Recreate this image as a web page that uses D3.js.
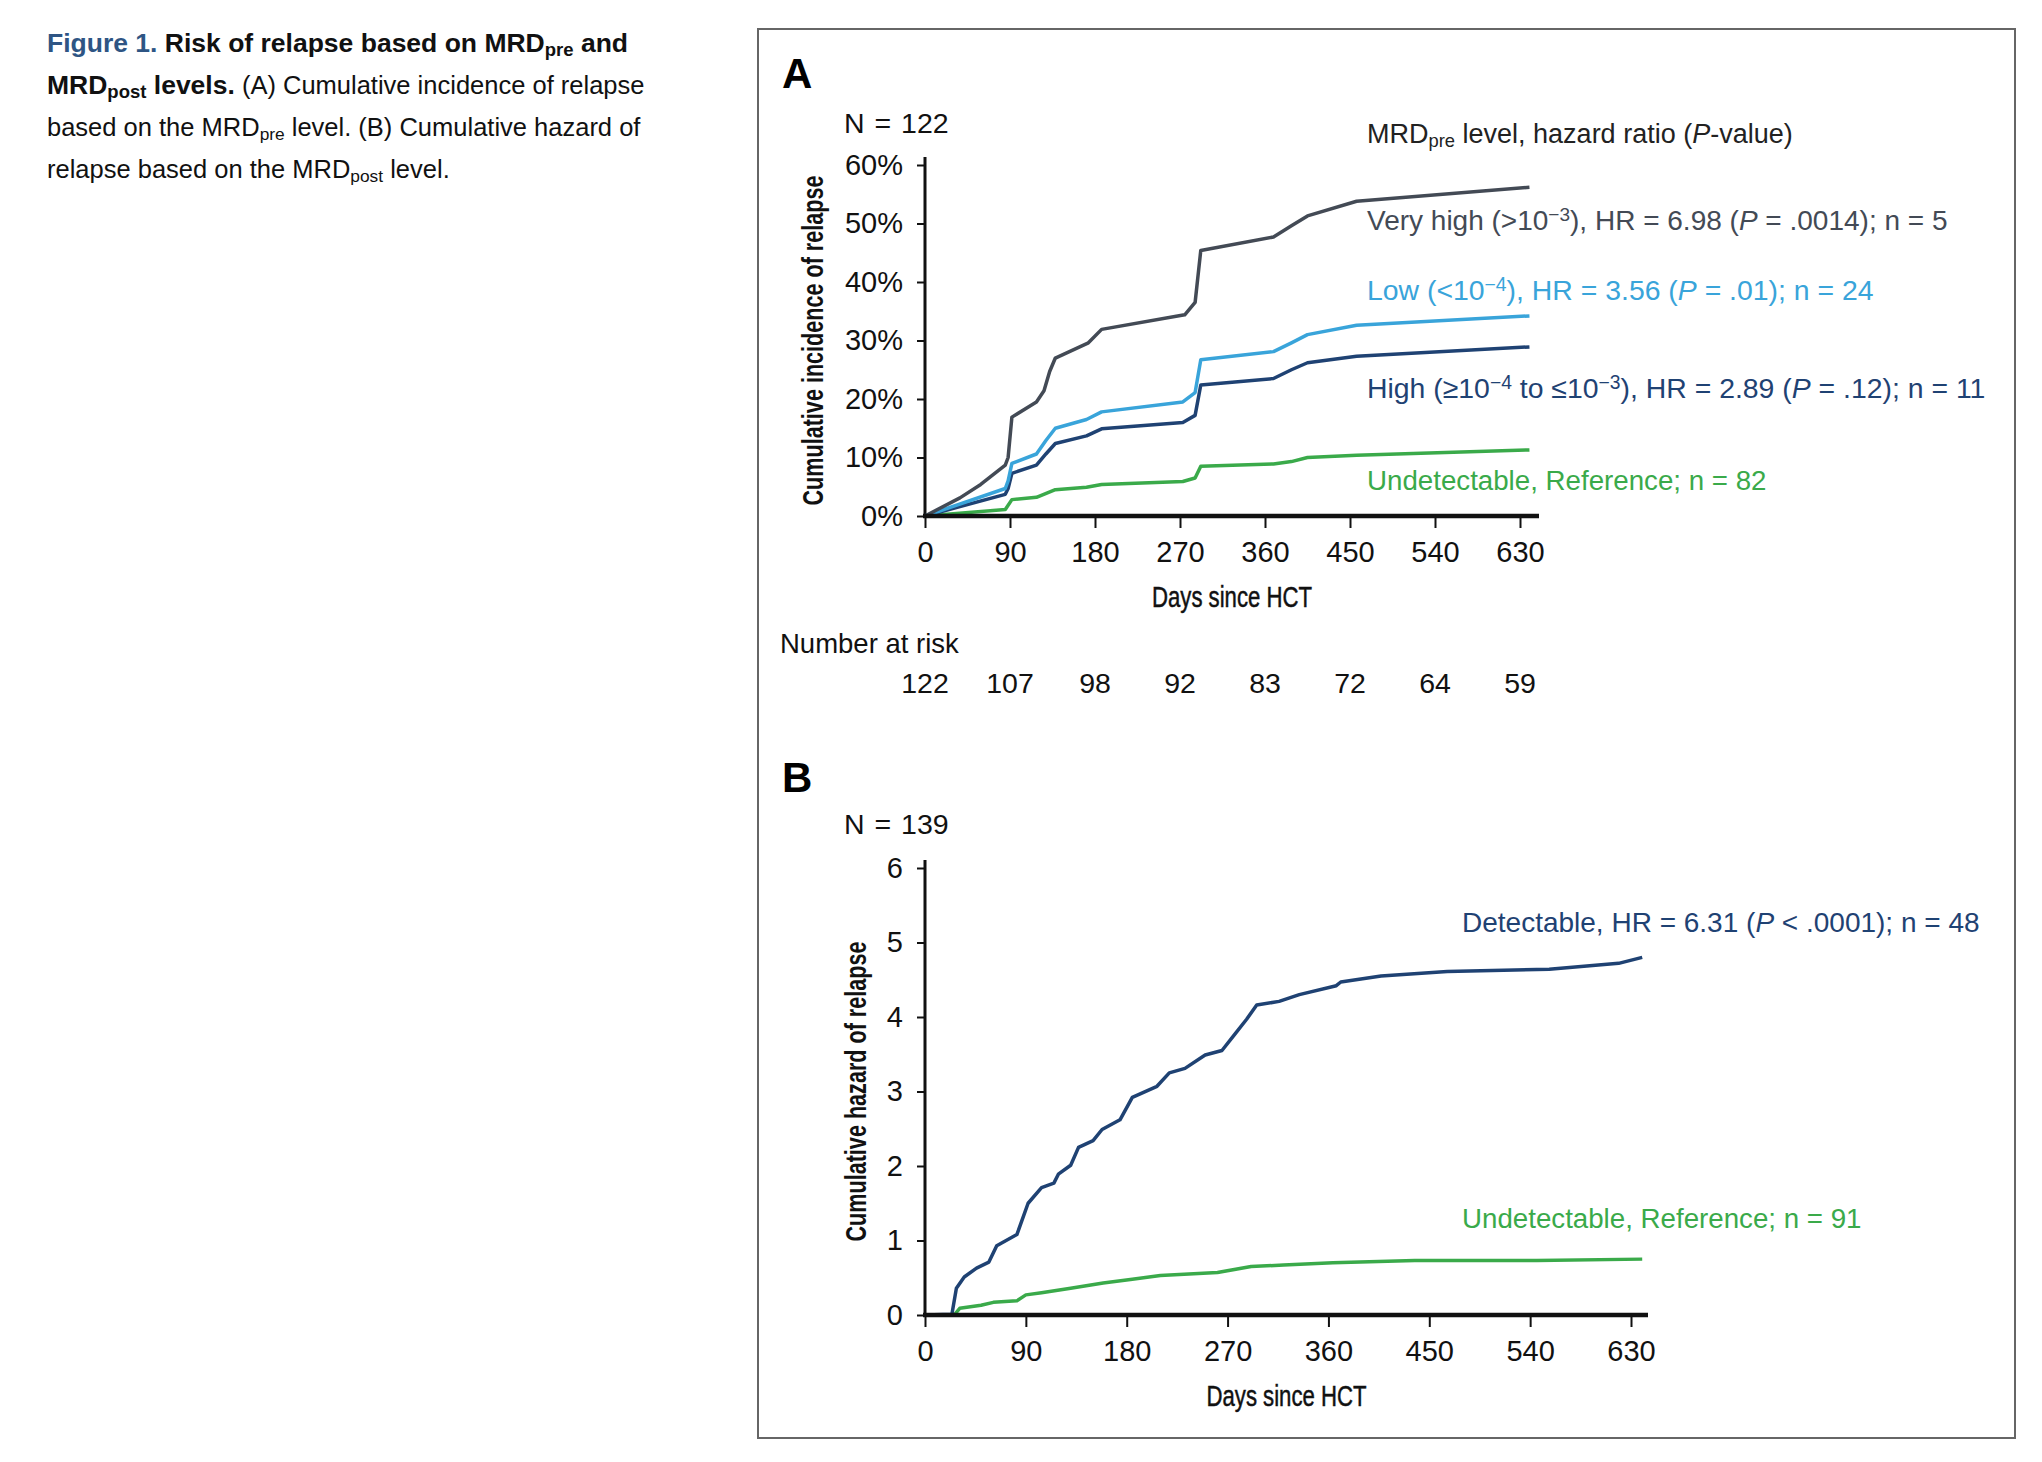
<!DOCTYPE html>
<html>
<head>
<meta charset="utf-8">
<script src="https://cdn.jsdelivr.net/npm/d3@7"></script>
<style>
  body { margin: 0; background: #fff; }
  svg { display: block; font-family: "Liberation Sans", Arial, sans-serif; }
</style>
</head>
<body>
<svg id="fig" width="2042" height="1462"></svg>
<script>
// Panel A: cumulative incidence by MRDpre level, [day, fraction]
const veryHigh = [[0,0],[37,.031],[59,.054],[85,.087],[88,.10],[92,.169],[118,.195],[126,.214],[132,.247],[138,.27],[173,.296],[187,.319],[275,.344],[286,.365],[292,.454],[369,.477],[388,.496],[405,.513],[457,.538],[640,.562]];
const lowA = [[0,0],[85,.047],[88,.06],[92,.09],[118,.106],[128,.129],[138,.15],[171,.165],[187,.178],[273,.195],[286,.211],[292,.267],[369,.281],[388,.296],[405,.31],[457,.326],[640,.342]];
const highA = [[0,0],[85,.037],[88,.047],[92,.073],[118,.087],[128,.106],[138,.124],[171,.137],[187,.149],[273,.16],[286,.172],[292,.224],[369,.235],[388,.25],[405,.262],[457,.273],[640,.289]];
const undetA = [[0,0],[85,.011],[92,.028],[118,.032],[138,.045],[171,.049],[187,.054],[273,.059],[286,.065],[292,.085],[369,.089],[388,.093],[405,.10],[457,.104],[640,.113]];
const atRisk = [122, 107, 98, 92, 83, 72, 64, 59];

// Panel B: cumulative hazard by MRDpost level, [day, hazard]
const detectB = [[0,0],[24,.01],[28,.36],[35,.51],[46,.63],[57,.71],[64,.93],[82,1.08],[92,1.5],[104,1.71],[115,1.77],[119,1.89],[130,2.01],[137,2.25],[150,2.34],[158,2.49],[174,2.62],[185,2.92],[207,3.07],[218,3.25],[232,3.31],[250,3.49],[265,3.55],[276,3.76],[287,3.97],[296,4.16],[316,4.21],[334,4.3],[367,4.42],[371,4.47],[407,4.55],[466,4.61],[557,4.64],[619,4.72],[640,4.8]];
const undetB = [[0,0],[26,0],[31,.09],[50,.13],[61,.17],[82,.19],[90,.27],[104,.3],[130,.36],[159,.43],[185,.48],[210,.53],[261,.57],[291,.65],[320,.67],[364,.7],[437,.73],[546,.73],[640,.75]];

const dayTicks = [0, 90, 180, 270, 360, 450, 540, 630];
const pctTicks = [0, .1, .2, .3, .4, .5, .6];
const hazTicks = [0, 1, 2, 3, 4, 5, 6];

const C = { gray: "#434a55", light: "#39a4da", navy: "#1f4273", green: "#3aaa4a", blue: "#2e5584" };

const svg = d3.select("#fig");

// text made of styled pieces (bold, sub/superscript, italic)
function rich(sel, parts) {
  parts.forEach(p => {
    const t = sel.append("tspan").text(p.t);
    if (p.b) t.attr("font-weight", "bold");
    if (p.big) t.attr("font-size", p.big);
    if (p.c) t.attr("fill", p.c);
    if (p.sub) t.attr("font-size", p.b ? 18.5 : "0.68em").attr("baseline-shift", "-22%");
    if (p.sup) t.attr("font-size", "0.68em").attr("baseline-shift", "45%");
    if (p.i) t.attr("font-style", "italic");
  });
  return sel;
}
const caption = [
  [{t: "Figure 1. ", b: 1, big: 26.5, c: C.blue}, {t: "Risk of relapse based on MRD", b: 1, big: 26.5}, {t: "pre", b: 1, sub: 1}, {t: " and", b: 1, big: 26.5}],
  [{t: "MRD", b: 1, big: 26.5}, {t: "post", b: 1, sub: 1}, {t: " levels.", b: 1, big: 26.5}, {t: " (A) Cumulative incidence of relapse"}],
  [{t: "based on the MRD"}, {t: "pre", sub: 1}, {t: " level. (B) Cumulative hazard of"}],
  [{t: "relapse based on the MRD"}, {t: "post", sub: 1}, {t: " level."}]
];
caption.forEach((line, i) => {
  rich(svg.append("text").attr("x", 47).attr("y", 52 + i * 42).attr("font-size", 25.5).attr("fill", "#111"), line);
});

// frame
svg.append("rect").attr("x", 758).attr("y", 29).attr("width", 1257).attr("height", 1409)
  .attr("fill", "none").attr("stroke", "#666").attr("stroke-width", 2);

const X0 = 925;

function panel(o) {
  const g = svg.append("g");
  const x = d3.scaleLinear().domain([0, 630]).range([X0, o.x630]);
  const y = d3.scaleLinear().domain(o.yDomain).range([o.y0, o.yTop]);

  g.append("text").attr("x", 782).attr("y", o.letterY).attr("font-size", 42)
    .attr("font-weight", "bold").text(o.letter);
  g.append("text").attr("x", 844).attr("y", o.nY).attr("font-size", 28.5).attr("fill", "#111")
    .attr("word-spacing", 2).text(o.nText);

  const xa = g.append("g").attr("transform", `translate(0,${o.y0})`)
    .call(d3.axisBottom(x).tickValues(dayTicks).tickSize(12).tickPadding(13));
  xa.select(".domain").remove();
  xa.selectAll(".tick line").attr("stroke", "#111").attr("stroke-width", 2);
  xa.selectAll("text").attr("font-size", 29).attr("fill", "#111")
    .attr("font-family", "Liberation Sans, Arial, sans-serif");

  const ya = g.append("g").attr("transform", `translate(${X0},0)`)
    .call(d3.axisLeft(y).tickValues(o.yTicks).tickFormat(o.yFmt).tickSize(8).tickPadding(14));
  ya.select(".domain").remove();
  ya.selectAll(".tick line").attr("stroke", "#111").attr("stroke-width", 2);
  ya.selectAll("text").attr("font-size", 29).attr("fill", "#111")
    .attr("font-family", "Liberation Sans, Arial, sans-serif");

  g.append("line").attr("x1", X0).attr("x2", X0).attr("y1", o.yTop - 8).attr("y2", o.y0)
    .attr("stroke", "#111").attr("stroke-width", 3);

  const line = d3.line().x(d => x(d[0])).y(d => y(d[1]));
  o.series.forEach(s => {
    g.append("path").datum(s.data).attr("d", line).attr("fill", "none")
      .attr("stroke", s.color).attr("stroke-width", 3.5).attr("stroke-linejoin", "round");
  });

  g.append("line").attr("x1", X0 - 2).attr("x2", o.xEnd).attr("y1", o.y0).attr("y2", o.y0)
    .attr("stroke", "#111").attr("stroke-width", 4.5);

  // condensed axis titles
  g.append("text").attr("x", (X0 + o.xEnd) / 2).attr("y", o.y0 + 91)
    .attr("text-anchor", "middle").attr("font-size", 30).attr("fill", "#111")
    .attr("stroke", "#111").attr("stroke-width", 0.5)
    .attr("textLength", 160).attr("lengthAdjust", "spacingAndGlyphs").text("Days since HCT");
  g.append("text")
    .attr("transform", `translate(${o.titleX},${(o.y0 + o.yTop) / 2}) rotate(-90)`)
    .attr("text-anchor", "middle").attr("font-size", 29).attr("font-weight", "bold")
    .attr("textLength", o.titleLen).attr("lengthAdjust", "spacingAndGlyphs")
    .attr("fill", "#111").text(o.yTitle);

  o.labels.forEach(l => {
    rich(g.append("text").attr("x", o.labelX).attr("y", l.y).attr("font-size", l.size || 28)
      .attr("fill", l.color), l.parts);
  });
  return x;
}

const xA = panel({
  letter: "A", letterY: 88, nText: "N = 122", nY: 133,
  x630: 1520, xEnd: 1539, y0: 516, yTop: 165, yDomain: [0, .6],
  yTicks: pctTicks, yFmt: d3.format(".0%"),
  titleX: 823, titleLen: 330, yTitle: "Cumulative incidence of relapse", labelX: 1367,
  series: [
    {data: undetA, color: C.green},
    {data: highA, color: C.navy},
    {data: lowA, color: C.light},
    {data: veryHigh, color: C.gray}
  ],
  labels: [
    {y: 143, size: 27, color: "#222", parts: [{t: "MRD"}, {t: "pre", sub: 1}, {t: " level, hazard ratio ("}, {t: "P", i: 1}, {t: "-value)"}]},
    {y: 230, color: C.gray, parts: [{t: "Very high (>10"}, {t: "−3", sup: 1}, {t: "), HR = 6.98 ("}, {t: "P", i: 1}, {t: " = .0014); n = 5"}]},
    {y: 300, size: 28.4, color: C.light, parts: [{t: "Low (<10"}, {t: "−4", sup: 1}, {t: "), HR = 3.56 ("}, {t: "P", i: 1}, {t: " = .01); n = 24"}]},
    {y: 398, size: 28.4, color: C.navy, parts: [{t: "High (≥10"}, {t: "−4", sup: 1}, {t: " to ≤10"}, {t: "−3", sup: 1}, {t: "), HR = 2.89 ("}, {t: "P", i: 1}, {t: " = .12); n = 11"}]},
    {y: 490, size: 27.7, color: C.green, parts: [{t: "Undetectable, Reference; n = 82"}]}
  ]
});

// number at risk table
svg.append("text").attr("x", 780).attr("y", 653).attr("font-size", 27.5).attr("fill", "#111").text("Number at risk");
svg.append("g").selectAll("text").data(atRisk).join("text")
  .attr("x", (d, i) => xA(dayTicks[i])).attr("y", 693).attr("text-anchor", "middle")
  .attr("font-size", 28.5).attr("fill", "#111").text(d => d);

panel({
  letter: "B", letterY: 792, nText: "N = 139", nY: 834,
  x630: 1631, xEnd: 1648, y0: 1315, yTop: 868, yDomain: [0, 6],
  yTicks: hazTicks, yFmt: d3.format("d"),
  titleX: 866, titleLen: 300, yTitle: "Cumulative hazard of relapse", labelX: 1462,
  series: [
    {data: undetB, color: C.green},
    {data: detectB, color: C.navy}
  ],
  labels: [
    {y: 932, color: C.navy, parts: [{t: "Detectable, HR = 6.31 ("}, {t: "P", i: 1}, {t: " < .0001); n = 48"}]},
    {y: 1228, size: 27.7, color: C.green, parts: [{t: "Undetectable, Reference; n = 91"}]}
  ]
});
</script>
</body>
</html>
